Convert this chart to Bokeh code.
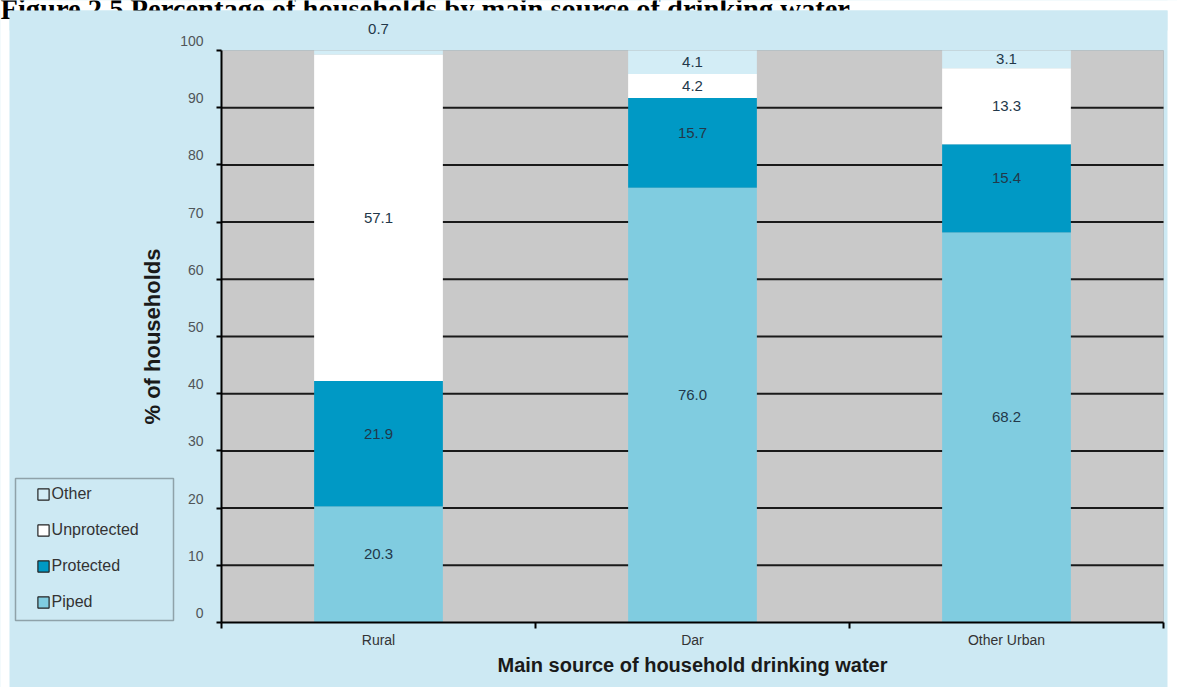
from bokeh.plotting import figure
from bokeh.models import (ColumnDataSource, Range1d, LinearAxis, FixedTicker, BoxAnnotation,
                          Label, LabelSet, Legend, LegendItem, Grid)
from bokeh.core.properties import value
from bokeh.embed import file_html
from bokeh.resources import INLINE

# Share of households by main source of drinking water (%)
categories = ["Rural", "Dar", "Other Urban"]
sources = ["Piped", "Protected", "Unprotected", "Other"]
piped = [20.3, 76.0, 68.2]
protected = [21.9, 15.7, 15.4]
unprotected = [57.1, 4.2, 13.3]
other = [0.7, 4.1, 3.1]
y_ticks = [0, 10, 20, 30, 40, 50, 60, 70, 80, 90, 100]

title_text = "Figure 2.5 Percentage of households by main source of drinking water"
x_title = "Main source of household drinking water"
y_title = "% of households"

colors = ["#80cce0", "#0099c5", "#ffffff", "#d3edf6"]
label_lift = [10, 10, 0, 0]          # px the value label is raised, per series
panel_blue = "#cde9f3"
plot_gray = "#c9c9c9"
FONT = "Liberation Sans"
W, H = 1177, 687

# page geometry (pixels): plotting area spans these edges, the frame covers the canvas
AX_L, AX_R, AX_T, AX_B = 221, 1163, 50, 622
n = len(categories)
ppx = (AX_R - AX_L) / n
ppy = (AX_B - AX_T) / 100.0
x0 = -AX_L / ppx
y1 = 100 + AX_T / ppy


def dx(px):
    return x0 + px / ppx


def dy(py):
    return y1 - py / ppy


# each category occupies one unit slot; bars sit in the middle of their slot
slot_mid = [i + 0.5 for i in range(n)]
slot_edges = list(range(n + 1))

source = ColumnDataSource(dict(xpos=slot_mid, category=categories, Piped=piped,
                               Protected=protected, Unprotected=unprotected, Other=other))

p = figure(width=W, height=H, x_range=Range1d(x0, dx(W)), y_range=Range1d(dy(H), y1),
           output_backend="svg", toolbar_location=None,
           x_axis_location=None, y_axis_location=None,
           min_border=0, min_border_left=0, min_border_right=0, min_border_top=0,
           min_border_bottom=0, border_fill_color=panel_blue,
           background_fill_color=panel_blue, outline_line_color=None)
p.center = [r for r in p.center if not isinstance(r, Grid)]


def box(l, r, t, b, **kw):
    p.add_layout(BoxAnnotation(left=l, right=r, top=t, bottom=b, level="image", **kw))


# white page margins, caption running off the top of the page
box(dx(-5), dx(W + 5), dy(-5), dy(10), fill_color="white", fill_alpha=1, line_color=None)
box(dx(-5), dx(9), dy(-5), dy(H + 5), fill_color="white", fill_alpha=1, line_color=None)
box(dx(1167), dx(W + 5), dy(-5), dy(H + 5), fill_color="white", fill_alpha=1, line_color=None)
p.add_layout(Label(x=dx(0), y=dy(9), text=title_text, text_font="Liberation Serif",
                   text_font_style="bold", text_font_size="28.5px", text_baseline="alphabetic",
                   text_color="black", level="image"))
box(dx(9), dx(1167), dy(10), dy(30), fill_color=panel_blue, fill_alpha=1, line_color=None)

# grey plotting area
box(0, n, 100, 0, fill_color=plot_gray, fill_alpha=1, line_color="#8a8a8a", line_width=1)

# horizontal rules across the plotting area
rules = y_ticks[1:-1]
p.segment(x0=[0] * len(rules), x1=[n] * len(rules), y0=rules, y1=rules,
          line_color="#1a1a1a", line_width=2)

# stacked bars
p.vbar_stack(sources, x="xpos", width=0.41, source=source,
             fill_color=colors, line_color=None)

# value labels in each segment; slivers get their label above the bar
lx, ly, lt, ldy = [], [], [], []
series = [piped, protected, unprotected, other]
for i, xm in enumerate(slot_mid):
    base = 0.0
    for vals, lift in zip(series, label_lift):
        v = vals[i]
        if v < 2:
            lx.append(xm); ly.append(base + v); ldy.append(22)
        else:
            lx.append(xm); ly.append(base + v / 2); ldy.append(lift)
        lt.append(f"{v:.1f}")
        base += v
labels = LabelSet(x="x", y="y", text="text", y_offset="dy",
                  source=ColumnDataSource(dict(x=lx, y=ly, text=lt, dy=ldy)),
                  text_align="center", text_baseline="middle", text_font=value(FONT),
                  text_font_size="15px", text_color="#22384a")
p.add_layout(labels)

# y axis: line, ticks and title
yaxis = LinearAxis(fixed_location=0, bounds=(0, 100), ticker=FixedTicker(ticks=y_ticks),
                   major_label_overrides={t: "" for t in y_ticks},
                   axis_line_color="black", axis_line_width=2,
                   major_tick_out=5, major_tick_in=0, minor_tick_out=0, minor_tick_in=0,
                   major_tick_line_color="black", major_tick_line_width=2,
                   axis_label=y_title, axis_label_text_font=FONT,
                   axis_label_text_font_style="bold", axis_label_text_font_size="22px",
                   axis_label_text_color="#1a1a1a", axis_label_standoff=52)
p.add_layout(yaxis, "left")

# y tick numbers sit a little above their tick marks
shift = 9.5 / ppy
p.extra_y_ranges = {"ticklabels": Range1d(dy(H) - shift, y1 - shift)}
ylabels = LinearAxis(y_range_name="ticklabels", fixed_location=0, bounds=(0, 100),
                     ticker=FixedTicker(ticks=y_ticks), axis_line_color=None,
                     major_tick_line_color=None, major_tick_out=0, major_tick_in=0,
                     minor_tick_out=0, minor_tick_in=0, major_label_standoff=18,
                     major_label_text_font=FONT, major_label_text_font_size="14px",
                     major_label_text_color="#505558")
p.add_layout(ylabels, "left")

# x axis: names under the bars, tick marks at the slot boundaries
xaxis = LinearAxis(fixed_location=0, bounds=(0, n),
                   ticker=FixedTicker(ticks=slot_mid, minor_ticks=slot_edges),
                   major_label_overrides={m: c for m, c in zip(slot_mid, categories)},
                   axis_line_color="black", axis_line_width=2,
                   major_tick_out=0, major_tick_in=0,
                   minor_tick_out=6, minor_tick_in=0,
                   minor_tick_line_color="black", minor_tick_line_width=2,
                   major_label_standoff=3, major_label_text_font=FONT,
                   major_label_text_font_size="14px", major_label_text_color="#333333",
                   axis_label=x_title, axis_label_text_font=FONT,
                   axis_label_text_font_style="bold", axis_label_text_font_size="20px",
                   axis_label_text_color="#1a1a1a", axis_label_standoff=3)
p.add_layout(xaxis, "below")

# legend
box(dx(15), dx(173), dy(478), dy(620), fill_alpha=0, line_color="black", line_width=1.5)
nan = float("nan")
items = []
for name, col in reversed(list(zip(sources, colors))):
    sw = p.vbar(x=[nan], top=[nan], width=0.41, fill_color=col,
                line_color="#222222", line_width=1.2)
    items.append(LegendItem(label=name, renderers=[sw]))
legend = Legend(items=items, location=(35.6, H - 611), padding=0, margin=0, spacing=18,
                glyph_width=14, glyph_height=14, label_height=14, label_standoff=2,
                border_line_color=None, background_fill_alpha=0,
                label_text_font=FONT, label_text_font_size="16px",
                label_text_color="#333333")
p.add_layout(legend)

open("out.html", "w").write(file_html(p, INLINE))
